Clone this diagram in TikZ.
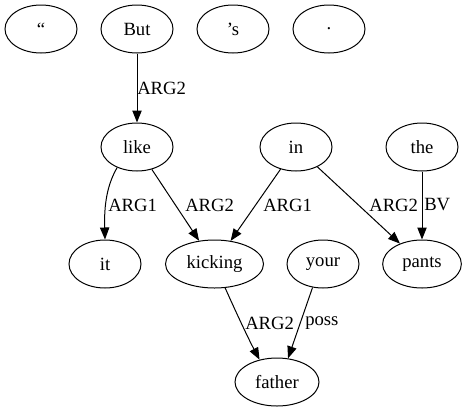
\documentclass[tikz,border=0pt]{standalone}
\usepackage{fontspec}
\setmainfont{Liberation Serif}
\usetikzlibrary{arrows.meta,shapes.geometric}
\begin{document}
\begin{tikzpicture}[x=0.75pt,y=-0.75pt,
  word/.style={draw,ellipse,line width=0.75pt,minimum width=54pt,minimum height=36pt,inner sep=0pt,font=\fontsize{14pt}{16pt}\selectfont},
  edge/.style={draw,line width=0.75pt,-{Triangle[length=9pt,width=7pt]}},
  lab/.style={anchor=west,inner sep=0pt,font=\fontsize{14pt}{16pt}\selectfont}]
\useasboundingbox (0,0) rectangle (467,411);
\node[word] (q) at (41,29) {“};
\node[word] (but) at (137,29) {But};
\node[word] (s) at (233,29) {’s};
\node[word] (dot) at (329,29) {.};
\node[word] (like) at (137,147) {like};
\node[word] (in) at (296,147) {in};
\node[word] (the) at (422,147) {the};
\node[word] (it) at (105,264) {it};
\node[word,minimum width=73.5pt] (kick) at (214.5,264) {kicking};
\node[word] (your) at (323,264) {your};
\node[word,minimum width=59pt] (pants) at (422,264) {pants};
\node[word,minimum width=63pt] (father) at (277,382) {father};
\draw[edge] (but) -- (like);
\draw[edge] (like.226) .. controls (107,185) and (104,205) .. (it.north);
\draw[edge] (like) -- (kick);
\draw[edge] (in) -- (kick);
\draw[edge] (in) -- (pants);
\draw[edge] (the) -- (pants);
\draw[edge] (kick.-66) .. controls (235,310) and (248,338) .. (father.128);
\draw[edge] (your.-114) -- (father.65);
\node[lab] (l1) at (137,88) {ARG2};
\node[lab] (l2) at (108,205) {ARG1};
\node[lab] (l3) at (185,205) {ARG2};
\node[lab] (l4) at (263,205) {ARG1};
\node[lab] (l5) at (369,205) {ARG2};
\node[lab] (l6) at (424,205) {BV};
\node[lab] (l7) at (245,323) {ARG2};
\node[lab] (l8) at (305,323) {poss};
\end{tikzpicture}
\end{document}
